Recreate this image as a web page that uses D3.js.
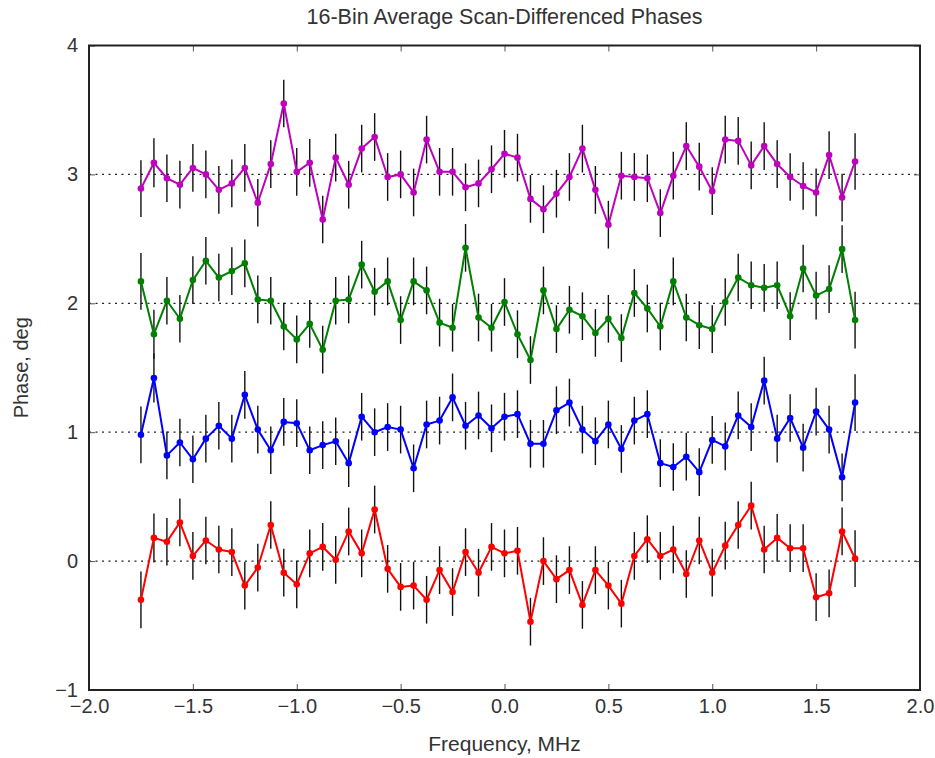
<!DOCTYPE html>
<html>
<head>
<meta charset="utf-8">
<script src="https://cdn.jsdelivr.net/npm/d3@7/dist/d3.min.js"></script>
<style>
  html, body { margin: 0; padding: 0; background: #fff; }
  svg { display: block; }
  text { font-family: "Liberation Sans", Arial, sans-serif; fill: #333; }
</style>
</head>
<body>
<svg id="chart" width="935" height="758"></svg>
<script>
// Channel frequencies of the 16-bin averages (MHz)
const freqMHz = [
  -1.75, -1.6875, -1.625, -1.5625, -1.5, -1.4375, -1.375, -1.3125,
  -1.25, -1.1875, -1.125, -1.0625, -1.0, -0.9375, -0.875, -0.8125,
  -0.75, -0.6875, -0.625, -0.5625, -0.5, -0.4375, -0.375, -0.3125,
  -0.25, -0.1875, -0.125, -0.0625, 0.0, 0.0625, 0.125, 0.1875,
  0.25, 0.3125, 0.375, 0.4375, 0.5, 0.5625, 0.625, 0.6875,
  0.75, 0.8125, 0.875, 0.9375, 1.0, 1.0625, 1.125, 1.1875,
  1.25, 1.3125, 1.375, 1.4375, 1.5, 1.5625, 1.625, 1.6875
];

// Scan-differenced phases (deg), each scan offset by one degree
const phaseScan0 = [
  -0.30, 0.18, 0.15, 0.30, 0.04, 0.16, 0.09, 0.07, -0.19, -0.05, 0.28, -0.09, -0.18, 0.06,
  0.11, 0.01, 0.23, 0.06, 0.40, -0.06, -0.20, -0.19, -0.30, -0.07, -0.24, 0.07, -0.09, 0.11,
  0.06, 0.08, -0.47, 0.00, -0.14, -0.07, -0.34, -0.07, -0.19, -0.33, 0.04, 0.17, 0.04, 0.09,
  -0.10, 0.16, -0.09, 0.12, 0.28, 0.43, 0.09, 0.18, 0.10, 0.10, -0.28, -0.25, 0.23, 0.02
];
const phaseScan1 = [
  0.98, 1.42, 0.82, 0.92, 0.79, 0.95, 1.05, 0.95, 1.29, 1.02, 0.86, 1.08, 1.07, 0.86,
  0.90, 0.93, 0.76, 1.12, 1.00, 1.04, 1.02, 0.72, 1.06, 1.09, 1.27, 1.05, 1.13, 1.03,
  1.12, 1.14, 0.91, 0.91, 1.17, 1.23, 1.02, 0.93, 1.06, 0.87, 1.09, 1.14, 0.76, 0.73,
  0.81, 0.69, 0.94, 0.89, 1.13, 1.04, 1.40, 0.95, 1.11, 0.88, 1.16, 1.02, 0.65, 1.23
];
const phaseScan2 = [
  2.17, 1.76, 2.02, 1.88, 2.18, 2.33, 2.20, 2.25, 2.31, 2.03, 2.02, 1.82, 1.72, 1.84,
  1.64, 2.02, 2.03, 2.30, 2.09, 2.17, 1.87, 2.17, 2.10, 1.85, 1.81, 2.43, 1.89, 1.81,
  2.01, 1.76, 1.56, 2.10, 1.80, 1.95, 1.90, 1.77, 1.88, 1.73, 2.08, 1.96, 1.82, 2.17,
  1.89, 1.83, 1.80, 2.01, 2.20, 2.14, 2.12, 2.14, 1.90, 2.27, 2.06, 2.11, 2.42, 1.87
];
const phaseScan3 = [
  2.89, 3.09, 2.97, 2.92, 3.05, 3.00, 2.88, 2.93, 3.05, 2.78, 3.08, 3.55, 3.02, 3.09,
  2.65, 3.13, 2.92, 3.20, 3.29, 2.98, 3.00, 2.86, 3.27, 3.02, 3.02, 2.90, 2.93, 3.04,
  3.16, 3.13, 2.81, 2.73, 2.85, 2.98, 3.20, 2.88, 2.61, 2.99, 2.98, 2.97, 2.70, 2.99,
  3.22, 3.06, 2.87, 3.27, 3.26, 3.07, 3.22, 3.08, 2.98, 2.91, 2.86, 3.15, 2.82, 3.10
];

// One-sigma phase uncertainty per bin (deg)
const phaseError = [
  0.22, 0.19, 0.185, 0.185, 0.185, 0.185, 0.185, 0.185, 0.185, 0.185, 0.185, 0.185, 0.185, 0.185,
  0.185, 0.185, 0.185, 0.185, 0.185, 0.185, 0.185, 0.185, 0.185, 0.185, 0.185, 0.185, 0.185, 0.185,
  0.185, 0.185, 0.185, 0.185, 0.185, 0.185, 0.185, 0.185, 0.185, 0.185, 0.185, 0.185, 0.185, 0.185,
  0.185, 0.185, 0.185, 0.185, 0.185, 0.185, 0.185, 0.185, 0.185, 0.185, 0.185, 0.185, 0.185, 0.22
];

const seriesColors = ["#ff0000", "#0000ff", "#008000", "#bf00bf"];
const referenceLevels = [0, 1, 2, 3];
const xTicks = [-2.0, -1.5, -1.0, -0.5, 0.0, 0.5, 1.0, 1.5, 2.0];
const yTicks = [-1, 0, 1, 2, 3, 4];

const chartTitle = "16-Bin Average Scan-Differenced Phases";
const xTitle = "Frequency, MHz";
const yTitle = "Phase, deg";

const series = [phaseScan0, phaseScan1, phaseScan2, phaseScan3].map((vals, i) => ({
  color: seriesColors[i],
  points: vals.map((v, j) => ({ x: freqMHz[j], y: v, e: phaseError[j] }))
}));

const svg = d3.select("#chart");
const margin = { left: 89, right: 15, top: 45.5, bottom: 68 };
const W = 935, H = 758;
const plotW = W - margin.left - margin.right;
const plotH = H - margin.top - margin.bottom;
const FONT = 20;

const x = d3.scaleLinear().domain([-2, 2]).range([margin.left, margin.left + plotW]);
const y = d3.scaleLinear().domain([-1, 4]).range([margin.top + plotH, margin.top]);

// Dotted reference lines at each scan's offset
svg.append("g")
  .selectAll("line")
  .data(referenceLevels)
  .join("line")
  .attr("x1", x(-2)).attr("x2", x(2))
  .attr("y1", d => y(d)).attr("y2", d => y(d))
  .attr("stroke", "#222")
  .attr("stroke-width", 1.2)
  .attr("stroke-dasharray", "2,4.5");

// Axes: labels outside, short ticks pointing inward, mirrored on top and right
const fmtX = d3.format(".1f");
const fmtY = d3.format("d");

const axBottom = svg.append("g")
  .attr("transform", `translate(0,${y(-1)})`)
  .call(d3.axisBottom(x).tickValues(xTicks).tickFormat(fmtX).tickSizeInner(-6).tickSizeOuter(0).tickPadding(9));
const axTop = svg.append("g")
  .attr("transform", `translate(0,${y(4)})`)
  .call(d3.axisTop(x).tickValues(xTicks).tickFormat("").tickSizeInner(-6).tickSizeOuter(0));
const axLeft = svg.append("g")
  .attr("transform", `translate(${x(-2)},0)`)
  .call(d3.axisLeft(y).tickValues(yTicks).tickFormat(fmtY).tickSizeInner(-6).tickSizeOuter(0).tickPadding(11));
const axRight = svg.append("g")
  .attr("transform", `translate(${x(2)},0)`)
  .call(d3.axisRight(y).tickValues(yTicks).tickFormat("").tickSizeInner(-6).tickSizeOuter(0));

[axBottom, axTop, axLeft, axRight].forEach(g => {
  g.select(".domain").remove();
  g.selectAll(".tick line").attr("stroke", "#555").attr("stroke-width", 1);
  g.selectAll(".tick text")
    .attr("font-family", "Liberation Sans, Arial, sans-serif")
    .attr("font-size", FONT)
    .attr("fill", "#333");
});

// Data: error bars, connecting line, point markers
const line = d3.line().x(d => x(d.x)).y(d => y(d.y));

series.forEach(s => {
  const g = svg.append("g");
  g.selectAll("line.err")
    .data(s.points)
    .join("line")
    .attr("class", "err")
    .attr("x1", d => x(d.x)).attr("x2", d => x(d.x))
    .attr("y1", d => y(d.y - d.e)).attr("y2", d => y(d.y + d.e))
    .attr("stroke", "#111")
    .attr("stroke-width", 1.4);
  g.append("path")
    .datum(s.points)
    .attr("d", line)
    .attr("fill", "none")
    .attr("stroke", s.color)
    .attr("stroke-width", 2)
    .attr("stroke-linejoin", "round");
  g.selectAll("circle")
    .data(s.points)
    .join("circle")
    .attr("cx", d => x(d.x))
    .attr("cy", d => y(d.y))
    .attr("r", 3.3)
    .attr("fill", s.color);
});

// Plot frame
svg.append("rect")
  .attr("x", x(-2)).attr("y", y(4))
  .attr("width", x(2) - x(-2)).attr("height", y(-1) - y(4))
  .attr("fill", "none")
  .attr("stroke", "#222")
  .attr("stroke-width", 2);

// Titles
svg.append("text")
  .attr("x", (x(-2) + x(2)) / 2).attr("y", 24)
  .attr("text-anchor", "middle")
  .attr("font-size", 21.5)
  .text(chartTitle);

svg.append("text")
  .attr("x", (x(-2) + x(2)) / 2).attr("y", 751)
  .attr("text-anchor", "middle")
  .attr("font-size", 21)
  .text(xTitle);

svg.append("text")
  .attr("transform", `translate(28,${(y(-1) + y(4)) / 2}) rotate(-90)`)
  .attr("text-anchor", "middle")
  .attr("font-size", FONT)
  .text(yTitle);
</script>
</body>
</html>
